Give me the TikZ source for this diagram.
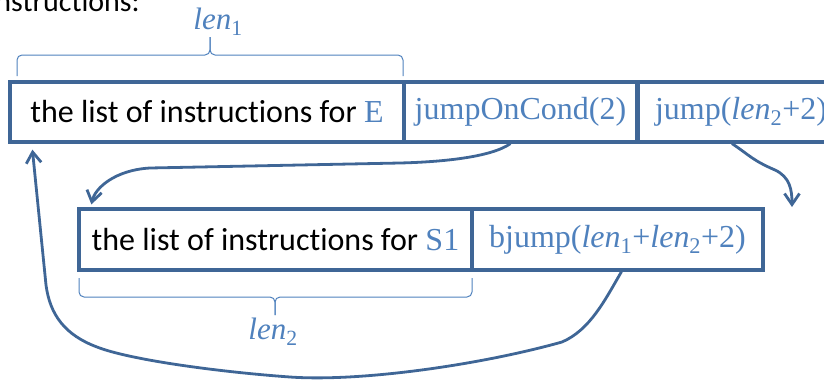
\documentclass[tikz,border=0pt]{standalone}
\usepackage{fontspec}
\setmainfont{Carlito}[Ligatures=NoCommon]
\newfontfamily\tnr{Liberation Serif}
\usetikzlibrary{arrows.meta}

\definecolor{boxline}{HTML}{3F6696}
\definecolor{codeblue}{HTML}{4F81BD}

% lengths and instruction names in the serif face
\newcommand{\len}[1]{\textit{len}\textsubscript{#1}}
\newcommand{\instr}[1]{{\tnr\color{codeblue}#1}}

\tikzset{
  block/.style={draw=boxline, line width=3.2pt, minimum height=60pt, inner sep=0pt,
    font=\fontsize{32}{38}\selectfont},
  code/.style={block, text=codeblue, font=\tnr\fontsize{32}{38}\selectfont},
  jumparrow/.style={draw=boxline, line width=2.8pt, -{Straight Barb[length=11pt,width=15pt]}},
  lenbrace/.style={draw=codeblue, line width=1pt, rounded corners=5pt},
  lenlabel/.style={text=codeblue, font=\tnr\fontsize{31}{36}\selectfont}
}

\begin{document}
\begin{tikzpicture}[x=1pt,y=-1pt]
\useasboundingbox (0,0) rectangle (824,380);
\clip (0,0) rectangle (824,380);

% end of the line above, cut by the top edge
\node[anchor=base east, font=\fontsize{30}{36}\selectfont, inner sep=0pt] (head) at (140,11) {instructions:};

% code of the loop test
\node[block, minimum width=394pt] (listE) at (207,112) {the list of instructions for \instr{E}};
\node[code, minimum width=233pt] (cond) at (520.5,112) {jumpOnCond(2)};
\node[code, minimum width=206pt] (jmp) at (741,112) {jump(\len{2}+2)};

% code of the body
\node[block, minimum width=393pt, minimum height=61pt] (listS) at (275.5,239.5) {the list of instructions for \instr{S1}};
\node[code, minimum width=291pt, minimum height=61pt] (bjmp) at (617.5,239.5) {bjump(\len{1}+\len{2}+2)};

% braces with the block lengths
\draw[lenbrace] (17,76) -- (17,55) -- (210,55) -- (210,37);
\draw[lenbrace] (403,76) -- (403,55) -- (210,55) -- (210,37);
\node[lenlabel] (lenA) at (218,22) {\len{1}};

\draw[lenbrace] (79,278) -- (79,297) -- (275,297) -- (275,315);
\draw[lenbrace] (472,278) -- (472,297) -- (275,297) -- (275,315);
\node[lenlabel] (lenB) at (273,332) {\len{2}};

% jumps
\coordinate (out) at (792,207);
\draw[jumparrow] ([xshift=-10pt]cond.south) .. controls +(-20,14) and (440,162) .. (400,163)
  -- (150,168) .. controls (115,170) and (95,188) .. ([xshift=14pt,yshift=3pt]listS.north west);
\draw[jumparrow] ([xshift=-9pt]jmp.south) .. controls +(18,12) and (752,160) .. (775,170)
  .. controls (790,177) and (792,190) .. (out);
\draw[jumparrow] ([xshift=4pt]bjmp.south) .. controls (605,300) and (590,330) .. (562,342)
  .. controls (480,365) and (360,382) .. (290,377)
  .. controls (220,372) and (130,360) .. (97,347)
  .. controls (65,335) and (50,315) .. (46,285)
  -- ([xshift=24pt,yshift=-6pt]listE.south west);
\end{tikzpicture}
\end{document}
